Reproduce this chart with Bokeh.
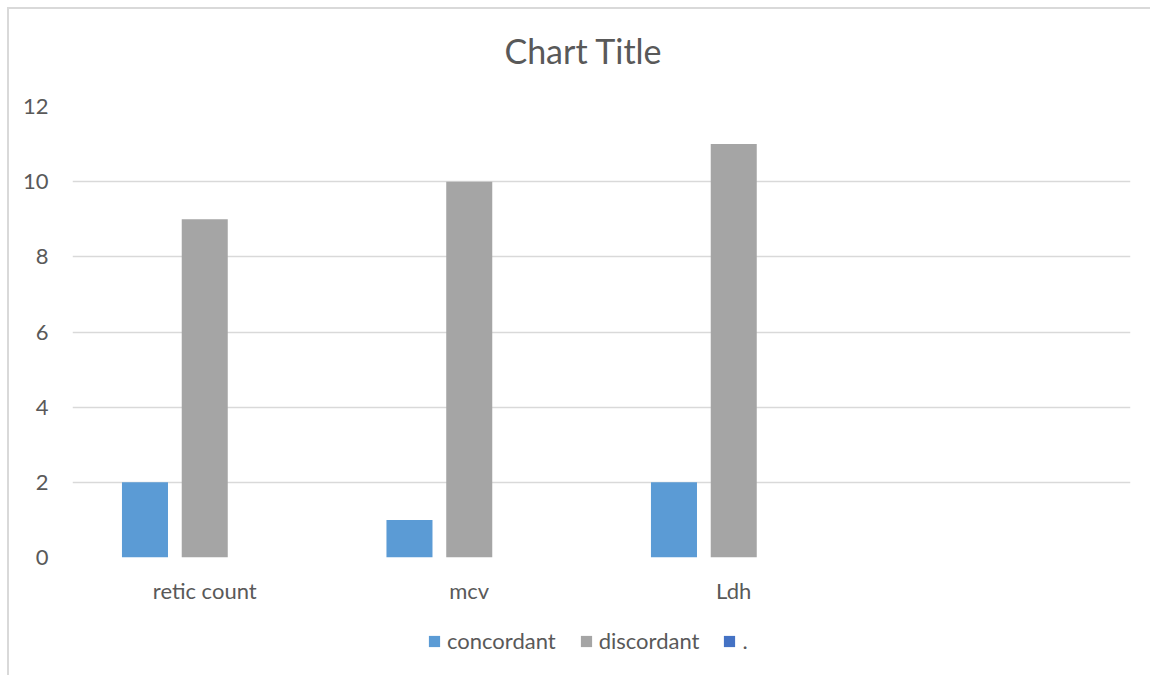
from bokeh.plotting import figure
from bokeh.models import ColumnDataSource, Legend, LegendItem, FactorRange, Range1d, Label
from bokeh.layouts import column
from bokeh.transform import dodge
from bokeh.embed import file_html
from bokeh.resources import INLINE

title_text = "Chart Title"
categories = ["retic count", "mcv", "Ldh", " "]
concordant = [2, 1, 2, 0]
discordant = [9, 10, 11, 0]
dot_series = [0, 0, 0, 0]
series_names = ["concordant", "discordant", "."]
series_colors = ["#5B9BD5", "#A5A5A5", "#4472C4"]
y_ticks = [0, 2, 4, 6, 8, 10, 12]

FONT = "Lato"
TXT = "#595959"


def strip(height):
    f = figure(
        width=1141, height=height, x_range=Range1d(0, 1), y_range=Range1d(0, 1),
        x_axis_type=None, y_axis_type=None,
        output_backend="svg", toolbar_location=None,
        min_border_left=0, min_border_right=0, min_border_top=0, min_border_bottom=0,
    )
    f.outline_line_color = None
    f.xgrid.grid_line_color = None
    f.ygrid.grid_line_color = None
    return f


# title strip (its frame is aligned with the chart frame: x 72..1130)
p0 = strip(80)
p0.add_layout(Label(
    x=511, y=39, x_units="screen", y_units="screen", text=title_text,
    text_align="center", text_baseline="alphabetic",
    text_font=FONT, text_font_size="34px", text_color=TXT,
))

src = ColumnDataSource(dict(cat=categories, c=concordant, d=discordant, z=dot_series))

p = figure(
    x_range=FactorRange(factors=categories, range_padding=0),
    y_range=(0, 12),
    width=1141, height=521,
    output_backend="svg", toolbar_location=None,
    min_border_left=63, min_border_right=20, min_border_top=17, min_border_bottom=53,
)
p.outline_line_color = None

w = 0.174
r1 = p.vbar(x=dodge("cat", -0.226, range=p.x_range), top="c", width=w, source=src,
            fill_color=series_colors[0], line_color=None)
r2 = p.vbar(x=dodge("cat", 0.0, range=p.x_range), top="d", width=w, source=src,
            fill_color=series_colors[1], line_color=None)
r3 = p.vbar(x=dodge("cat", 0.226, range=p.x_range), top="z", width=w, source=src,
            fill_color=series_colors[2], line_color=None)

p.yaxis.ticker = y_ticks
p.ygrid.ticker = y_ticks
p.xgrid.grid_line_color = None
p.ygrid.grid_line_color = "#D9D9D9"
p.ygrid.grid_line_width = 1.5

for ax in (p.xaxis[0], p.yaxis[0]):
    ax.axis_line_color = None
    ax.major_tick_line_color = None
    ax.minor_tick_line_color = None
    ax.major_tick_out = 0
    ax.major_tick_in = 0
    ax.minor_tick_out = 0
    ax.minor_tick_in = 0
    ax.major_label_text_font = FONT
    ax.major_label_text_font_size = "22px"
    ax.major_label_text_color = TXT
p.yaxis.major_label_standoff = 24
p.xaxis.major_label_standoff = 19

# legend strip below the chart
p2 = strip(65)
lr = [p2.vbar(x=[0.5], top=[0], width=0.01, fill_color=c, line_color=None) for c in series_colors]

legend = Legend(
    items=[LegendItem(label=n, renderers=[r]) for n, r in zip(series_names, lr)],
    orientation="horizontal", location=(355, 21),
    glyph_width=14, glyph_height=14, label_standoff=6, spacing=23,
    label_text_font=FONT, label_text_font_size="22px", label_text_color=TXT,
    border_line_color=None, background_fill_alpha=0, padding=0, margin=0,
)
p2.add_layout(legend, "center")

layout = column(
    p0, p, p2, spacing=0, margin=(7, 0, 0, 7),
    styles={"border-top": "2px solid #D9D9D9", "border-left": "2px solid #D9D9D9"},
)

open("out.html", "w").write(file_html(layout, INLINE))
